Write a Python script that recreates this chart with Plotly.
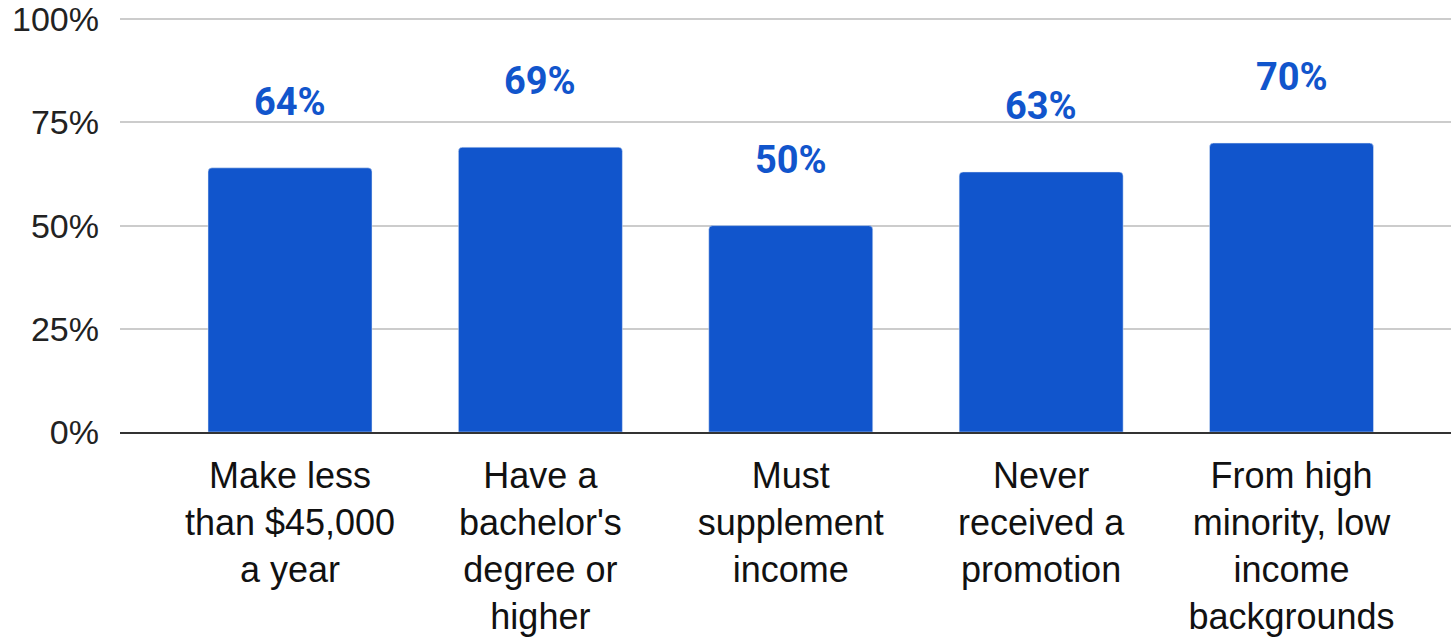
import plotly.graph_objects as go

categories = [
    "Make less<br>than $45,000<br>a year",
    "Have a<br>bachelor's<br>degree or<br>higher",
    "Must<br>supplement<br>income",
    "Never<br>received a<br>promotion",
    "From high<br>minority, low<br>income<br>backgrounds",
]
values = [64, 69, 50, 63, 70]
y_ticks = [0, 25, 50, 75, 100]

BLUE = "#1155CC"

fig = go.Figure()
fig.add_trace(go.Bar(
    x=list(range(len(categories))),
    y=values,
    marker=dict(color=BLUE, cornerradius=4),
    hoverinfo="skip",
))

for i, v in enumerate(values):
    fig.add_annotation(
        x=i, y=v, text=f"<b>{v}%</b>", showarrow=False,
        yanchor="middle", yshift=66,
        font=dict(family="Roboto", size=38, color=BLUE),
    )

fig.update_layout(
    width=1451, height=641,
    margin=dict(l=120, r=0, t=18, b=209, autoexpand=False),
    plot_bgcolor="white", paper_bgcolor="white",
    bargap=0.345,
    showlegend=False,
    font=dict(family="Liberation Sans, Arial", color="#222222"),
)
fig.update_xaxes(
    tickmode="array",
    tickvals=list(range(len(categories))),
    ticktext=categories,
    range=[-0.679, 4.637],
    showgrid=False,
    showline=True, linecolor="#333333", linewidth=2,
    ticks="", tickangle=0,
    tickfont=dict(size=36, color="#111111"),
    ticklabelstandoff=11,
    automargin=False,
)
fig.update_yaxes(
    range=[0, 100.3],
    tickvals=y_ticks,
    ticktext=[f"{t}%" for t in y_ticks],
    showgrid=True, gridcolor="#cccccc", gridwidth=2,
    zeroline=False,
    tickfont=dict(size=34, color="#222222"),
    ticklabelstandoff=20,
    automargin=False,
)

fig.write_html("out.html")
